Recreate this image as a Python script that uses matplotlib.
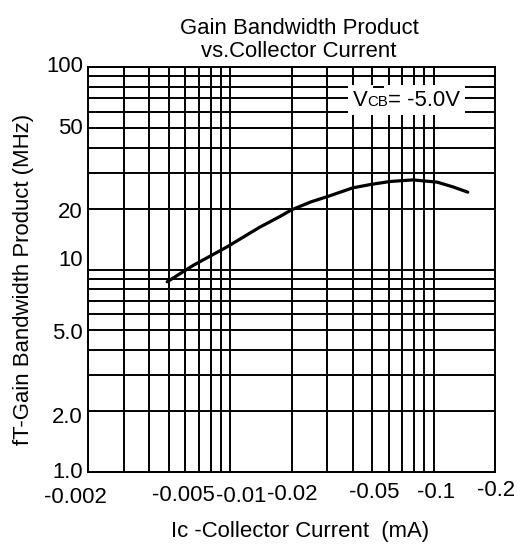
import matplotlib
matplotlib.use('Agg')
import matplotlib.pyplot as plt
from matplotlib.ticker import LogLocator, NullFormatter
from matplotlib.transforms import offset_copy, blended_transform_factory

plt.rcParams['font.family'] = ['Liberation Sans', 'DejaVu Sans']

# fT curve (Ic in mA, fT in MHz)
ic = [0.0049, 0.0066, 0.0096, 0.014, 0.0176, 0.020, 0.025, 0.030, 0.040, 0.049, 0.061, 0.079, 0.104, 0.124, 0.147]
ft = [8.7, 10.5, 12.9, 16.2, 18.3, 19.7, 21.6, 22.9, 25.3, 26.3, 27.2, 27.7, 27.0, 25.6, 24.1]

x_ticks = [0.002, 0.005, 0.01, 0.02, 0.05, 0.1, 0.2]
x_labels = ['-0.002', '-0.005', '-0.01', '-0.02', '-0.05', '-0.1', '-0.2']
y_ticks = [1, 2, 5, 10, 20, 50, 100]
y_labels = ['1.0', '2.0', '5.0', '10', '20', '50', '100']

# small label nudges (pixels) so the labels sit like the scanned sheet
x_nudge = [(-13, -2.5), (14, -0.5), (11, -1), (1, 0), (2, 2), (2, 2.5), (1, 4)]
y_nudge = [-1, -6, -3, 8.5, -4, -1, 0]

FS = 15.9

fig = plt.figure(figsize=(5.22, 5.45), dpi=100)
ax = fig.add_axes([88/522, 1 - 472/545, (495 - 88)/522, (472 - 67)/545])

ax.set_xscale('log')
ax.set_yscale('log')
ax.set_xlim(0.002, 0.2)
ax.set_ylim(1, 100)

ax.xaxis.set_minor_locator(LogLocator(base=10, subs=range(2, 10)))
ax.yaxis.set_minor_locator(LogLocator(base=10, subs=range(2, 10)))
ax.set_xticks(x_ticks)
ax.set_yticks(y_ticks)
ax.set_xticklabels([])
ax.set_yticklabels([])
ax.xaxis.set_minor_formatter(NullFormatter())
ax.yaxis.set_minor_formatter(NullFormatter())
ax.tick_params(which='both', length=0)
ax.grid(True, which='both', color='black', linewidth=1.4)
for sp in ax.spines.values():
    sp.set_linewidth(1.4)

ax.plot(ic, ft, color='black', linewidth=2.3, solid_capstyle='round',
        solid_joinstyle='round', zorder=3)

# tick labels as plain text
tx = blended_transform_factory(ax.transData, ax.transAxes)
for val, lab, (dx, dy) in zip(x_ticks, x_labels, x_nudge):
    tr = offset_copy(tx, fig=fig, x=dx, y=-23 + dy, units='dots')
    ax.text(val, 0, lab, transform=tr, ha='center', va='center', fontsize=FS, clip_on=False)

ty = blended_transform_factory(ax.transAxes, ax.transData)
for val, lab, dy in zip(y_ticks, y_labels, y_nudge):
    tr = offset_copy(ty, fig=fig, x=-5, y=dy, units='dots')
    ax.text(0, val, lab, transform=tr, ha='right', va='center', fontsize=FS, clip_on=False)

# V_CB note: small caps "CB" on the same baseline, white box behind
box = dict(facecolor='white', edgecolor='none', pad=3.5)
note_x, note_y = 0.0401, 64.5
renderer = fig.canvas.get_renderer()
shift = 0
for piece, size in [('V', FS), ('CB', FS * 0.68), ('= -5.0V', FS)]:
    tr = offset_copy(ax.transData, fig=fig, x=shift, y=0, units='dots')
    # white patch underneath, real text on top so pieces don't hide each other
    ax.text(note_x, note_y, piece, transform=tr, fontsize=size, ha='left',
            va='baseline', color='none', bbox=box, zorder=4)
    t = ax.text(note_x, note_y, piece, transform=tr, fontsize=size, ha='left',
                va='baseline', zorder=5)
    shift += t.get_window_extent(renderer).width

fig.text(299/522, 1 - 57/545, 'Gain Bandwidth Product\nvs.Collector Current',
         ha='center', va='baseline', fontsize=FS, linespacing=1.1)
fig.text(300/522, 1 - 531/545, 'Ic -Collector Current  (mA)', ha='center', va='center', fontsize=FS)
fig.text(24/522, 1 - 279/545, 'fT-Gain Bandwidth Product (MHz)', ha='center', va='center',
         rotation=90, fontsize=FS)

fig.savefig('out.png', dpi=100)
